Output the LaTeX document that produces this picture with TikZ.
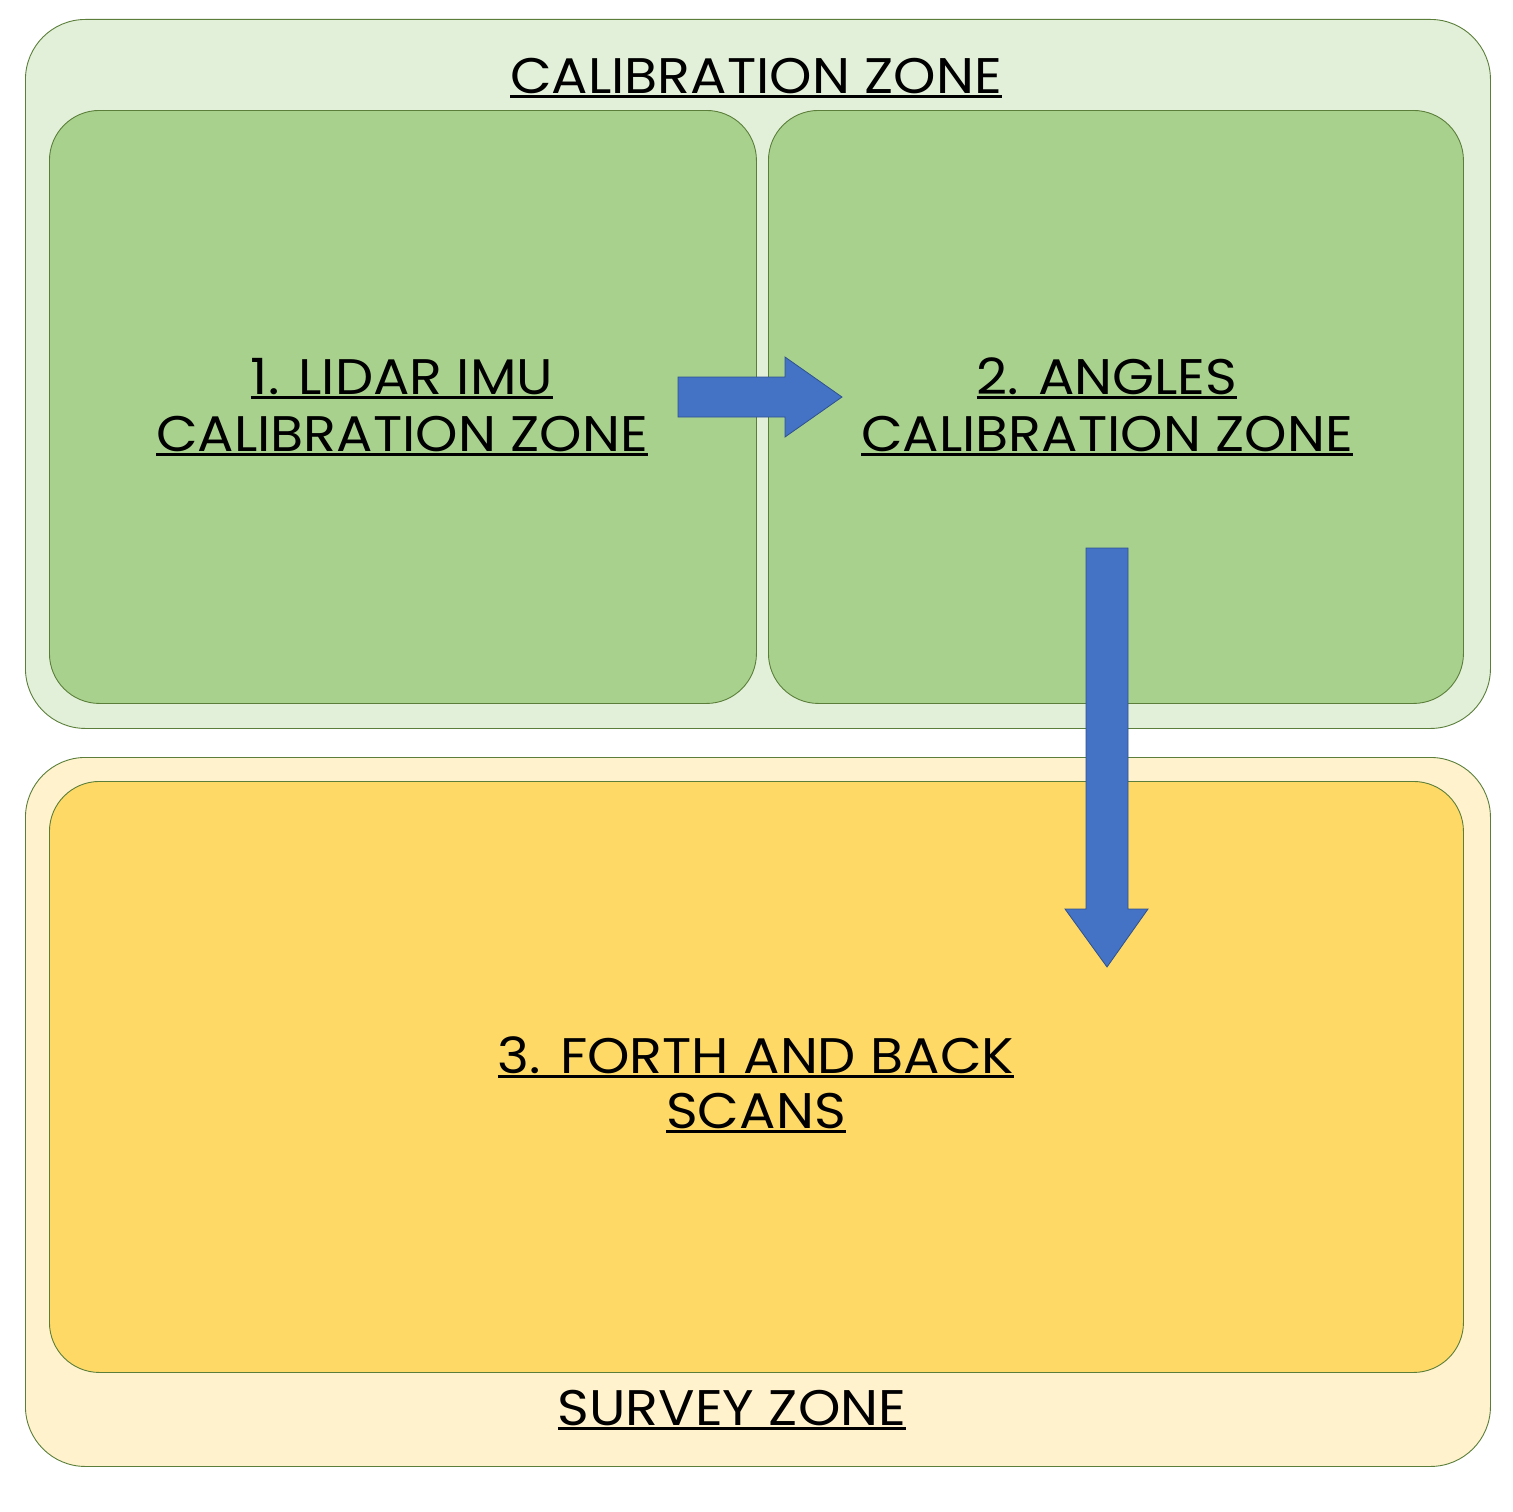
\documentclass[tikz,border=0pt]{standalone}
\usepackage{fontspec}
\setmainfont{Poppins}[FakeStretch=1.08]
\definecolor{outgreen}{HTML}{E2F0D9}
\definecolor{ingreen}{HTML}{A9D18E}
\definecolor{outyellow}{HTML}{FFF2CC}
\definecolor{inyellow}{HTML}{FFD966}
\definecolor{edgegreen}{HTML}{5B7F3A}
\definecolor{arrowfill}{HTML}{4472C4}
\definecolor{arrowedge}{HTML}{2F528F}
\newcommand\myul[1]{\setbox0\hbox{#1}\rlap{\rule[-4.5pt]{\wd0}{2.4pt}}\box0}
\tikzset{
  zone/.style={draw=edgegreen, line width=0.9pt, anchor=north west, inner sep=0pt},
  outerzone/.style={zone, rounded corners=60pt},
  innerzone/.style={zone, rounded corners=50pt},
  lbl/.style={anchor=base, inner sep=0pt, font=\fontsize{50}{57}\selectfont, text=black},
  blockarrow/.style={fill=arrowfill, draw=arrowedge, line width=0.8pt, line join=miter}
}
\begin{document}
\begin{tikzpicture}[x=1pt,y=-1pt]
\useasboundingbox[fill=white] (0,0) rectangle (1512,1512);
% outer zones
\node[outerzone, fill=outgreen, minimum width=1465pt, minimum height=709pt] (calib) at (25,19) {};
\node[outerzone, fill=outyellow, minimum width=1465pt, minimum height=709pt] (survey) at (25,757) {};
% inner zones
\node[innerzone, fill=ingreen, minimum width=707pt, minimum height=593pt] (lidar) at (49,110) {};
\node[innerzone, fill=ingreen, minimum width=695pt, minimum height=593pt] (angles) at (768,110) {};
\node[innerzone, fill=inyellow, minimum width=1414pt, minimum height=591pt] (scans) at (49,781) {};
% labels
\node[lbl] (calibtxt) at (756,93) {\myul{CALIBRATION ZONE}};
\node[lbl] (lidartxta) at (402,394) {\myul{1. LIDAR IMU}};
\node[lbl] (lidartxtb) at (402,451) {\myul{CALIBRATION ZONE}};
\node[lbl] (anglestxta) at (1107,394) {\myul{2. ANGLES}};
\node[lbl] (anglestxtb) at (1107,451) {\myul{CALIBRATION ZONE}};
\node[lbl] (scanstxta) at (756,1073) {\myul{3. FORTH AND BACK}};
\node[lbl] (scanstxtb) at (756,1128) {\myul{SCANS}};
\node[lbl] (surveytxt) at (732,1425) {\myul{SURVEY ZONE}};
% block arrows
\draw[blockarrow] (678,377) -- (785,377) -- (785,357) -- (842,397) -- (785,437) -- (785,417) -- (678,417) -- cycle;
\draw[blockarrow] (1086,548) -- (1128,548) -- (1128,909) -- (1148,909) -- (1107,967) -- (1065,909) -- (1086,909) -- cycle;
\end{tikzpicture}
\end{document}
